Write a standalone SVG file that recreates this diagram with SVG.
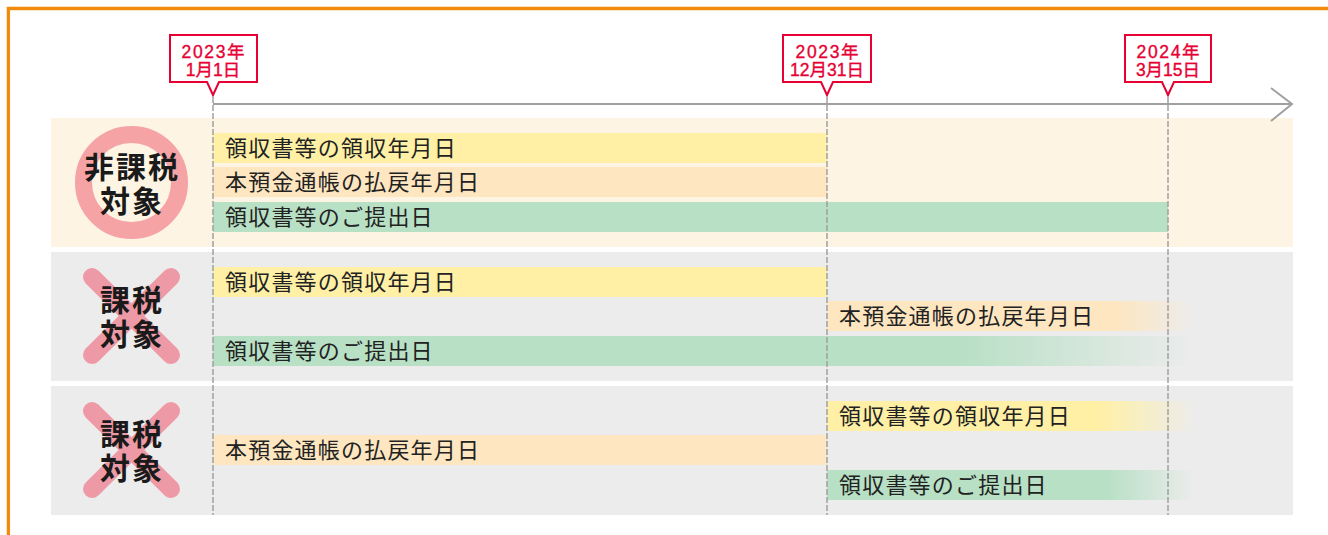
<svg xmlns="http://www.w3.org/2000/svg" width="1328" height="535" viewBox="0 0 1328 535">
<style>
.bar{font-family:"Noto Sans CJK JP","Noto Sans CJK SC",sans-serif;font-size:22px;letter-spacing:1.2px;fill:#222}
.cat{font-family:"Noto Sans CJK JP","Noto Sans CJK SC",sans-serif;font-size:30px;font-weight:bold;letter-spacing:2px;fill:#1a1a1a;text-anchor:middle}
.date{font-family:"Liberation Sans","Noto Sans CJK JP",sans-serif;font-size:17.5px;fill:#e60033;stroke:#e60033;stroke-width:0.35;text-anchor:middle}
.callout{fill:#fff;stroke:#e60033;stroke-width:2}
.vdash{stroke:#a0a0a0;stroke-width:1.5;stroke-dasharray:6 2;fill:none}
.y{fill:#fff0a6}.o{fill:#fde6c0}.g{fill:#b8e0c5}
.cross{stroke:#ee9aa6;stroke-width:18;stroke-linecap:round}
</style>
<defs>
<linearGradient id="fadeO2" x1="0" x2="1" y1="0" y2="0"><stop offset="0" stop-color="#fde6c0"/><stop offset="0.78" stop-color="#fde6c0"/><stop offset="1" stop-color="#fde6c0" stop-opacity="0"/></linearGradient>
<linearGradient id="fadeG2" x1="0" x2="1" y1="0" y2="0"><stop offset="0" stop-color="#b8e0c5"/><stop offset="0.76" stop-color="#b8e0c5"/><stop offset="1" stop-color="#b8e0c5" stop-opacity="0"/></linearGradient>
<linearGradient id="fadeY3" x1="0" x2="1" y1="0" y2="0"><stop offset="0" stop-color="#fff0a6"/><stop offset="0.74" stop-color="#fff0a6"/><stop offset="1" stop-color="#fff0a6" stop-opacity="0"/></linearGradient>
<linearGradient id="fadeG3" x1="0" x2="1" y1="0" y2="0"><stop offset="0" stop-color="#b8e0c5"/><stop offset="0.76" stop-color="#b8e0c5"/><stop offset="1" stop-color="#b8e0c5" stop-opacity="0"/></linearGradient>
</defs>
<rect width="1328" height="535" fill="#fff"/>
<path d="M8.4,535 V8.5 H1328" fill="none" stroke="#f28a0c" stroke-width="3.3"/>

<g id="panel1">
<rect x="51" y="118" width="1242" height="129" fill="#fef4e4"/>
<circle cx="131.5" cy="182.5" r="48" fill="#fef4e4" stroke="#f6a3a6" stroke-width="17"/>
<text class="cat"><tspan x="132" y="178">非課税</tspan><tspan x="132" y="212">対象</tspan></text>
<rect class="y" x="213" y="133" width="614" height="30"/>
<rect class="o" x="213" y="167" width="614" height="30"/>
<rect class="g" x="213" y="202" width="955" height="30"/>
<text class="bar" x="225" y="156">領収書等の領収年月日</text>
<text class="bar" x="225" y="190">本預金通帳の払戻年月日</text>
<text class="bar" x="225" y="225">領収書等のご提出日</text>
</g>

<g id="panel2">
<rect x="51" y="252" width="1242" height="129" fill="#ececec"/>
<line class="cross" x1="92" y1="277" x2="171" y2="355"/>
<line class="cross" x1="171" y1="277" x2="92" y2="355"/>
<text class="cat"><tspan x="132" y="311">課税</tspan><tspan x="132" y="345">対象</tspan></text>
<rect class="y" x="213" y="267" width="614" height="30"/>
<rect x="827" y="301" width="368" height="30" fill="url(#fadeO2)"/>
<rect x="213" y="336" width="982" height="30" fill="url(#fadeG2)"/>
<text class="bar" x="225" y="290">領収書等の領収年月日</text>
<text class="bar" x="839" y="324">本預金通帳の払戻年月日</text>
<text class="bar" x="225" y="359">領収書等のご提出日</text>
</g>

<g id="panel3">
<rect x="51" y="386" width="1242" height="129" fill="#ececec"/>
<line class="cross" x1="92" y1="411" x2="171" y2="489"/>
<line class="cross" x1="171" y1="411" x2="92" y2="489"/>
<text class="cat"><tspan x="132" y="445">課税</tspan><tspan x="132" y="479">対象</tspan></text>
<rect x="827" y="401" width="368" height="30" fill="url(#fadeY3)"/>
<rect class="o" x="213" y="435" width="614" height="30"/>
<rect x="827" y="470" width="368" height="30" fill="url(#fadeG3)"/>
<text class="bar" x="839" y="424">領収書等の領収年月日</text>
<text class="bar" x="225" y="458">本預金通帳の払戻年月日</text>
<text class="bar" x="839" y="493">領収書等のご提出日</text>
</g>

<g id="connectors">
<line x1="213" y1="104" x2="1292" y2="104" stroke="#a0a0a0" stroke-width="2"/>
<polyline points="1271,88 1292,104 1271,121" fill="none" stroke="#a0a0a0" stroke-width="2"/>
<line class="vdash" x1="213" y1="97" x2="213" y2="515"/>
<line class="vdash" x1="827" y1="97" x2="827" y2="515"/>
<line class="vdash" x1="1168" y1="97" x2="1168" y2="515"/>
</g>

<g id="date1">
<path class="callout" d="M170,35 H257 V82 H219 L213,95 L207,82 H170 Z"/>
<text class="date"><tspan x="213" y="57.5" textLength="63" lengthAdjust="spacing">2023年</tspan><tspan x="213" y="75.5">1月1日</tspan></text>
</g>
<g id="date2">
<path class="callout" d="M783,35 H871 V82 H833 L827,95 L821,82 H783 Z"/>
<text class="date"><tspan x="827" y="57.5" textLength="63" lengthAdjust="spacing">2023年</tspan><tspan x="827" y="75.5">12月31日</tspan></text>
</g>
<g id="date3">
<path class="callout" d="M1125,35 H1211 V82 H1174 L1168,95 L1162,82 H1125 Z"/>
<text class="date"><tspan x="1168" y="57.5" textLength="63" lengthAdjust="spacing">2024年</tspan><tspan x="1168" y="75.5">3月15日</tspan></text>
</g>
</svg>
